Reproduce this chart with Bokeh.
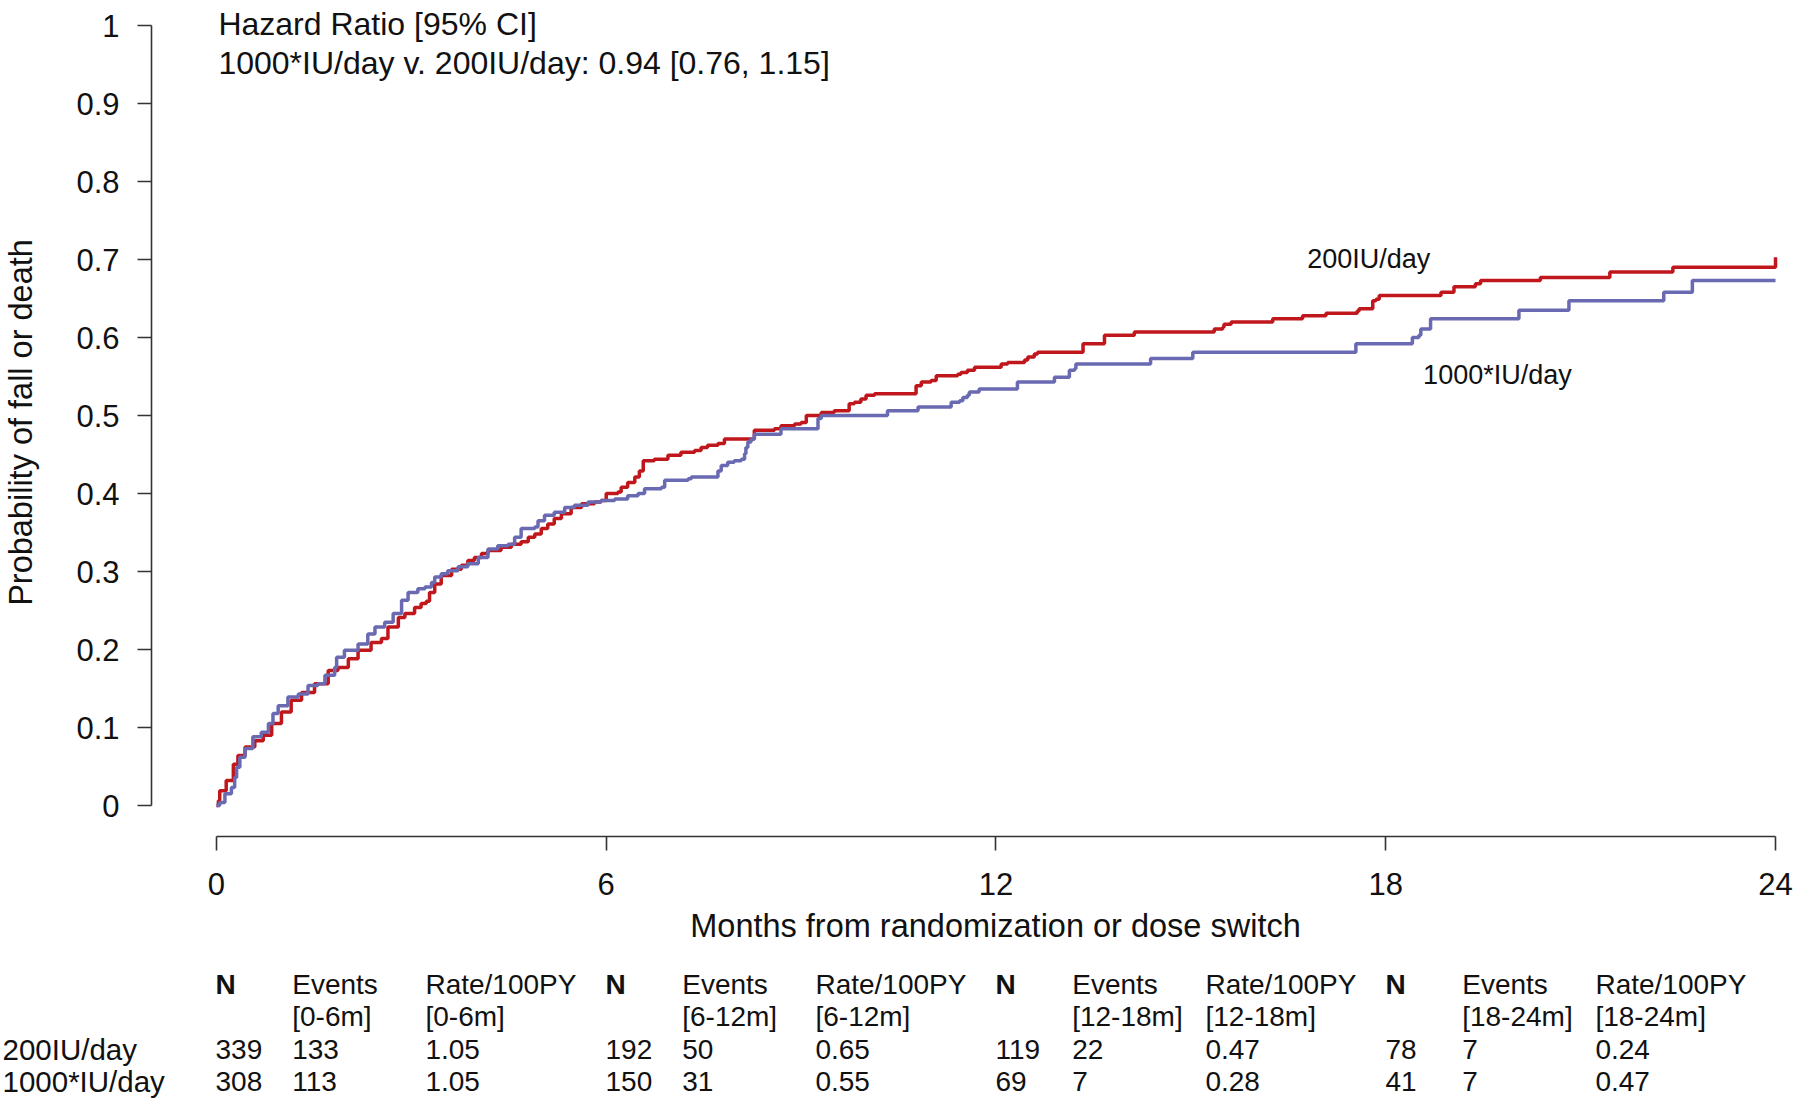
from bokeh.plotting import figure
from bokeh.models import Range1d, FixedTicker, ColumnDataSource
from bokeh.layouts import column
from bokeh.embed import file_html
from bokeh.resources import INLINE
from bokeh.core.properties import value

# ---------------- data ----------------
t_200 = [0, 0.03, 0.05, 0.15, 0.26, 0.33, 0.44, 0.59, 0.72, 0.85, 1.0, 1.15, 1.31, 1.51, 1.72, 1.87,
         2.03, 2.18, 2.38, 2.54, 2.64, 2.80, 2.90, 3.05, 3.15, 3.23, 3.28, 3.36, 3.46, 3.62, 3.77, 3.87,
         3.97, 4.08, 4.18, 4.38, 4.54, 4.69, 4.80, 4.90, 5.0, 5.10, 5.20, 5.31, 5.46, 5.62, 5.82, 5.92,
         6.0, 6.18, 6.23, 6.33, 6.44, 6.51, 6.57, 6.74, 6.95, 7.15, 7.36, 7.46, 7.56, 7.72, 7.82, 8.28,
         8.59, 8.69, 8.90, 9.0, 9.08, 9.31, 9.51, 9.74, 9.82, 9.92, 10.0, 10.13, 10.77, 10.85, 11.0, 11.08,
         11.41, 11.46, 11.56, 11.67, 12.08, 12.18, 12.44, 12.49, 12.59, 12.64, 13.34, 13.67, 14.13, 15.36,
         15.49, 15.51, 15.62, 16.26, 16.72, 17.08, 17.56, 17.59, 17.80, 17.85, 17.90, 18.85, 19.05, 19.38,
         19.46, 20.38, 21.45, 22.42, 24.0]
p_200 = [0, 0.006, 0.019, 0.032, 0.053, 0.064, 0.075, 0.083, 0.090, 0.105, 0.120, 0.135, 0.145, 0.156, 0.173, 0.177,
         0.188, 0.199, 0.209, 0.214, 0.229, 0.241, 0.246, 0.254, 0.259, 0.262, 0.273, 0.284, 0.295, 0.303, 0.308, 0.314,
         0.318, 0.323, 0.327, 0.331, 0.335, 0.338, 0.344, 0.348, 0.355, 0.361, 0.368, 0.374, 0.382, 0.387, 0.389, 0.391,
         0.400, 0.402, 0.408, 0.414, 0.421, 0.429, 0.442, 0.444, 0.449, 0.453, 0.455, 0.459, 0.462, 0.464, 0.470, 0.481,
         0.483, 0.487, 0.489, 0.491, 0.500, 0.504, 0.506, 0.515, 0.517, 0.521, 0.526, 0.528, 0.538, 0.543, 0.545, 0.551,
         0.553, 0.555, 0.558, 0.562, 0.566, 0.568, 0.571, 0.575, 0.579, 0.581, 0.592, 0.603, 0.607, 0.611,
         0.613, 0.617, 0.620, 0.624, 0.628, 0.631, 0.634, 0.637, 0.647, 0.649, 0.654, 0.658, 0.665, 0.669,
         0.673, 0.677, 0.684, 0.690, 0.703]

t_1000 = [0, 0.05, 0.13, 0.23, 0.28, 0.31, 0.36, 0.44, 0.56, 0.69, 0.80, 0.87, 0.95, 1.10, 1.26, 1.41, 1.56,
          1.67, 1.82, 1.85, 1.97, 2.18, 2.33, 2.44, 2.59, 2.72, 2.85, 2.95, 3.10, 3.21, 3.31, 3.36, 3.46, 3.56,
          3.72, 3.87, 4.03, 4.18, 4.33, 4.49, 4.59, 4.69, 4.90, 4.95, 5.05, 5.20, 5.36, 5.51, 5.72, 5.92, 6.13,
          6.33, 6.49, 6.59, 6.85, 6.90, 7.26, 7.31, 7.72, 7.77, 7.87, 7.97, 8.08, 8.13, 8.15, 8.18, 8.23, 8.28,
          8.69, 9.26, 9.31, 10.33, 10.80, 11.31, 11.44, 11.49, 11.56, 11.59, 11.74, 12.33, 12.90, 13.13, 13.21,
          13.23, 14.38, 15.03, 17.54, 18.41, 18.51, 18.54, 18.69, 20.05, 20.82, 22.28, 22.72, 24.0]
p_1000 = [0, 0.004, 0.015, 0.023, 0.036, 0.049, 0.062, 0.073, 0.088, 0.094, 0.105, 0.118, 0.128, 0.139, 0.143, 0.154, 0.156,
          0.167, 0.177, 0.190, 0.199, 0.207, 0.220, 0.229, 0.235, 0.246, 0.263, 0.273, 0.278, 0.280, 0.286, 0.293, 0.297, 0.301,
          0.306, 0.310, 0.318, 0.329, 0.333, 0.335, 0.344, 0.355, 0.357, 0.365, 0.372, 0.376, 0.382, 0.385, 0.389, 0.391, 0.393,
          0.397, 0.400, 0.406, 0.408, 0.417, 0.419, 0.421, 0.429, 0.436, 0.440, 0.442, 0.444, 0.451, 0.459, 0.466, 0.470, 0.476,
          0.483, 0.496, 0.500, 0.506, 0.511, 0.517, 0.519, 0.523, 0.526, 0.530, 0.534, 0.543, 0.549, 0.558, 0.560,
          0.566, 0.573, 0.581, 0.592, 0.600, 0.603, 0.611, 0.624, 0.635, 0.647, 0.658, 0.673, 0.673]

x_ticks = [0, 6, 12, 18, 24]
y_ticks = [0, 0.1, 0.2, 0.3, 0.4, 0.5, 0.6, 0.7, 0.8, 0.9, 1]
y_tick_labels = ["0", "0.1", "0.2", "0.3", "0.4", "0.5", "0.6", "0.7", "0.8", "0.9", "1"]
x_title = "Months from randomization or dose switch"
y_title = "Probability of fall or death"

groups = ["200IU/day", "1000*IU/day"]
hr_title = "Hazard Ratio [95% CI]"
hr_text = "1000*IU/day v. 200IU/day: 0.94 [0.76, 1.15]"

periods = ["[0-6m]", "[6-12m]", "[12-18m]", "[18-24m]"]
period_starts = [0, 6, 12, 18]
n_200 = [339, 192, 119, 78]
events_200 = [133, 50, 22, 7]
rate_200 = ["1.05", "0.65", "0.47", "0.24"]
n_1000 = [308, 150, 69, 41]
events_1000 = [113, 31, 7, 7]
rate_1000 = ["1.05", "0.55", "0.28", "0.47"]

# ---------------- layout helpers (page pixels -> data units) ----------------
FONT = "Liberation Sans"
RED = "#c0171c"
BLUE = "#6a6ab2"
TXT = "#111111"
W, H = 1800, 1105
X0_PX, PX_PER_MONTH = 215.0, 65.0      # page x of month 0, px per month
Y0_PX, PX_PER_UNIT = 805.0, 780.0      # page y of probability 0, px per unit


def xm(px):
    return (px - X0_PX) / PX_PER_MONTH


def yv(py):
    return (Y0_PX - py) / PX_PER_UNIT


# ---------------- main plot ----------------
TOP_H = 908
FRAME_L, FRAME_R, FRAME_T, FRAME_B = 150, 1780, 8, 836

p = figure(width=W, height=TOP_H, output_backend="svg", toolbar_location=None,
           x_range=Range1d(xm(FRAME_L), xm(FRAME_R)), y_range=Range1d(yv(FRAME_B), yv(FRAME_T)),
           min_border_left=FRAME_L, min_border_right=W - FRAME_R, min_border_top=FRAME_T,
           min_border_bottom=TOP_H - FRAME_B, frame_align=False)
p.outline_line_color = None
p.grid.visible = False
p.background_fill_color = "white"
p.border_fill_color = "white"

p.step(t_200, p_200, mode="after", line_color=RED, line_width=3.5)
p.step(t_1000, p_1000, mode="after", line_color=BLUE, line_width=3.5)

for ax in (p.xaxis[0], p.yaxis[0]):
    ax.axis_line_color = "#333333"
    ax.axis_line_width = 1.6
    ax.major_tick_line_color = "#333333"
    ax.major_tick_line_width = 1.6
    ax.major_tick_in = 0
    ax.major_tick_out = 14
    ax.minor_tick_line_color = None
    ax.major_label_text_font = FONT
    ax.major_label_text_font_size = "31px"
    ax.major_label_text_color = TXT
    ax.axis_label_text_font = FONT
    ax.axis_label_text_font_size = "32.5px"
    ax.axis_label_text_font_style = "normal"
    ax.axis_label_text_color = TXT

p.xaxis.ticker = FixedTicker(ticks=x_ticks)
p.xaxis.bounds = (0, 24)
p.xaxis.major_label_standoff = 22

p.yaxis.ticker = FixedTicker(ticks=y_ticks)
p.yaxis.bounds = (0, 1)
p.yaxis.major_label_overrides = {t: l for t, l in zip(y_ticks, y_tick_labels)}
p.yaxis.major_label_standoff = 18
p.yaxis.axis_label = y_title
p.yaxis.axis_label_standoff = 34

p.text(x=[0.03, 0.03], y=[yv(23), yv(62)], text=[hr_title, hr_text], text_font=value(FONT),
       text_font_size="32px", text_color=TXT, text_baseline="middle", text_align="left")
p.text(x=[xm(1306.5), xm(1422.4)], y=[yv(258), yv(374)], text=groups, text_font=value(FONT),
       text_font_size="27px", text_color=TXT, text_baseline="middle", text_align="left")

# ---------------- x title + table below ----------------
BOT_H = H - TOP_H
t = figure(width=W, height=BOT_H, output_backend="svg", toolbar_location=None,
           x_range=Range1d(xm(0), xm(W)), y_range=Range1d(H, TOP_H),  # y in page pixels (downward)
           x_axis_type=None, y_axis_type=None, frame_align=False,
           min_border_left=0, min_border_right=0, min_border_top=0, min_border_bottom=0)
t.outline_line_color = None
t.grid.visible = False
t.background_fill_color = "white"
t.border_fill_color = "white"

t.text(x=[12], y=[925], text=[x_title], text_font=value(FONT), text_font_size="32.5px",
       text_color=TXT, text_baseline="middle", text_align="center")

EV_OFF, RATE_OFF = 1.18, 3.23
ROW_Y = [984, 1016, 1049, 1081]
bx, by, bt = [], [], []
nx, ny, nt = [], [], []
for i, s in enumerate(period_starts):
    bx.append(s); by.append(ROW_Y[0]); bt.append("N")
    nx += [s + EV_OFF, s + RATE_OFF, s + EV_OFF, s + RATE_OFF]
    ny += [ROW_Y[0], ROW_Y[0], ROW_Y[1], ROW_Y[1]]
    nt += ["Events", "Rate/100PY", periods[i], periods[i]]
    nx += [s, s + EV_OFF, s + RATE_OFF, s, s + EV_OFF, s + RATE_OFF]
    ny += [ROW_Y[2]] * 3 + [ROW_Y[3]] * 3
    nt += [str(n_200[i]), str(events_200[i]), rate_200[i],
           str(n_1000[i]), str(events_1000[i]), rate_1000[i]]

t.text(x="x", y="y", text="t", source=ColumnDataSource(dict(x=bx, y=by, t=bt)),
       text_font=value(FONT), text_font_size="28px", text_font_style="bold", text_color=TXT,
       text_baseline="middle", text_align="left")
t.text(x="x", y="y", text="t", source=ColumnDataSource(dict(x=nx, y=ny, t=nt)),
       text_font=value(FONT), text_font_size="28px", text_color=TXT,
       text_baseline="middle", text_align="left")
t.text(x=[xm(2), xm(2)], y=[ROW_Y[2], ROW_Y[3]], text=groups, text_font=value(FONT),
       text_font_size="29.5px", text_color=TXT, text_baseline="middle", text_align="left")

layout = column(p, t, spacing=0)
open("out.html", "w").write(file_html(layout, INLINE))
